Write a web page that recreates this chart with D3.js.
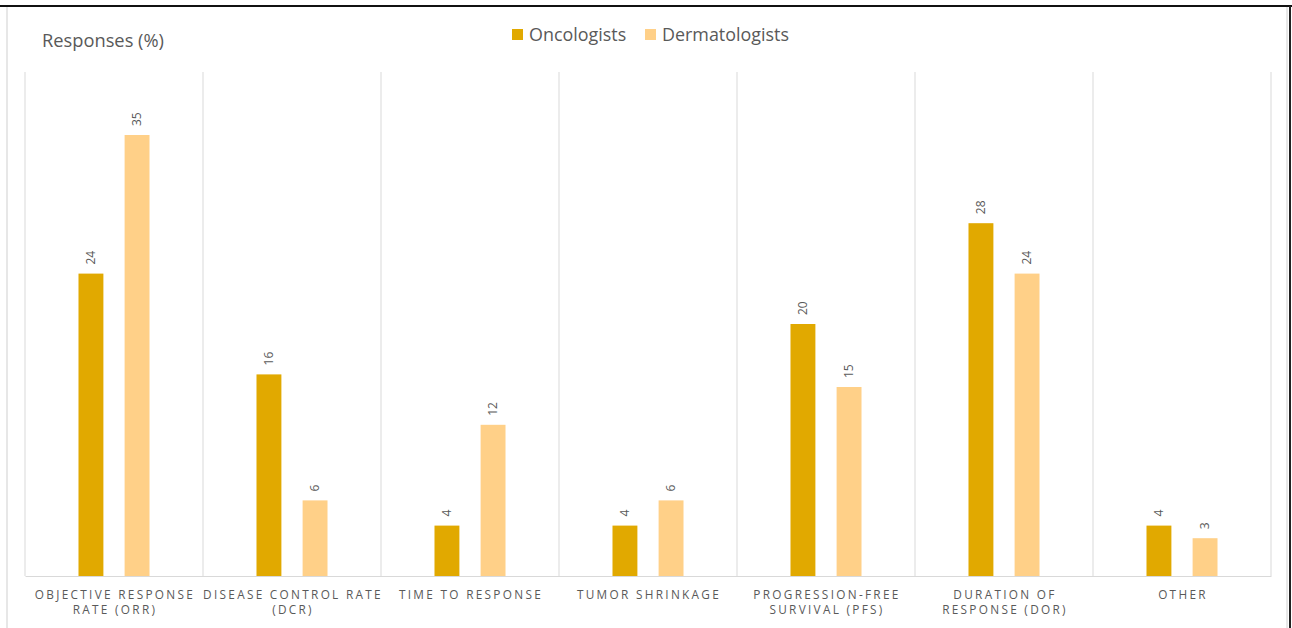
<!DOCTYPE html>
<html>
<head>
<meta charset="utf-8">
<script src="https://cdn.jsdelivr.net/npm/d3@7"></script>
<style>
  body { margin: 0; background: #fff; }
  svg { display: block; }
  text { font-family: "Open Sans", "Noto Sans", sans-serif; fill: #595959; }
</style>
</head>
<body>
<svg id="chart"></svg>
<script>
// data
const categories = ['ORR', 'DCR', 'TTR', 'TS', 'PFS', 'DOR', 'OTHER'];
const tickLabels = [
  ['OBJECTIVE RESPONSE', 'RATE (ORR)'],
  ['DISEASE CONTROL RATE', '(DCR)'],
  ['TIME TO RESPONSE'],
  ['TUMOR SHRINKAGE'],
  ['PROGRESSION-FREE', 'SURVIVAL (PFS)'],
  ['DURATION OF', 'RESPONSE (DOR)'],
  ['OTHER']
];
const seriesNames = ['Oncologists', 'Dermatologists'];
const oncologists = [24, 16, 4, 4, 20, 28, 4];
const dermatologists = [35, 6, 12, 6, 15, 24, 3];

const width = 1292, height = 628;
const margin = { top: 72, right: 21, bottom: 52, left: 25 };
const innerW = width - margin.left - margin.right;
const innerH = height - margin.top - margin.bottom;

const rows = categories.map((c, i) => ({
  cat: c,
  Oncologists: oncologists[i],
  Dermatologists: dermatologists[i]
}));

const svg = d3.select('#chart')
  .attr('width', width)
  .attr('height', height);

// outer frame
svg.append('rect')
  .attr('x', 7).attr('y', 6)
  .attr('width', 1280).attr('height', 630)
  .attr('fill', 'none')
  .attr('stroke', '#d0d0d0').attr('stroke-width', 1);
svg.append('line')
  .attr('x1', 0).attr('x2', width).attr('y1', 6).attr('y2', 6)
  .attr('stroke', '#111').attr('stroke-width', 2);
svg.append('line')
  .attr('x1', 1290).attr('x2', 1290).attr('y1', 6).attr('y2', height)
  .attr('stroke', '#222').attr('stroke-width', 2);

const chart = svg.append('g')
  .attr('transform', `translate(${margin.left},${margin.top})`);

const x0 = d3.scaleBand()
  .domain(categories)
  .range([0, innerW])
  .padding(0);

const x1 = d3.scaleBand()
  .domain(seriesNames)
  .range([0, x0.bandwidth()])
  .paddingInner(0.46)
  .paddingOuter(1.16);

const y = d3.scaleLinear()
  .domain([0, 40])
  .range([innerH, 0]);

const color = d3.scaleOrdinal()
  .domain(seriesNames)
  .range(['#E1A900', '#FFD088']);

// category separators
chart.selectAll('.sep')
  .data(categories.concat(['end']))
  .join('line')
    .attr('class', 'sep')
    .attr('x1', d => d === 'end' ? innerW : x0(d))
    .attr('x2', d => d === 'end' ? innerW : x0(d))
    .attr('y1', 0)
    .attr('y2', innerH)
    .attr('stroke', '#d9d9d9')
    .attr('stroke-width', 1);

// bars
const groups = chart.selectAll('.cat')
  .data(rows)
  .join('g')
    .attr('class', 'cat')
    .attr('transform', d => `translate(${x0(d.cat)},0)`);

groups.selectAll('rect')
  .data(d => seriesNames.map(k => ({ key: k, value: d[k] })))
  .join('rect')
    .attr('x', d => x1(d.key))
    .attr('y', d => y(d.value))
    .attr('width', x1.bandwidth())
    .attr('height', d => innerH - y(d.value))
    .attr('fill', d => color(d.key));

// rotated value labels
groups.selectAll('.val')
  .data(d => seriesNames.map(k => ({ key: k, value: d[k] })))
  .join('text')
    .attr('class', 'val')
    .attr('transform', d => `translate(${x1(d.key) + x1.bandwidth() / 2},${y(d.value) - 9}) rotate(-90)`)
    .attr('dy', '0.35em')
    .style('font-size', '12px')
    .style('text-anchor', 'start')
    .text(d => d.value);

// x axis
const xAxis = d3.axisBottom(x0).tickSize(0).tickFormat('');
const xAxisG = chart.append('g')
  .attr('transform', `translate(0,${innerH})`)
  .call(xAxis);
xAxisG.select('.domain').attr('stroke', '#d9d9d9');

// wrapped tick labels
const tickG = chart.append('g')
  .attr('transform', `translate(0,${innerH})`);
tickG.selectAll('text')
  .data(categories)
  .join('text')
    .attr('x', d => x0(d) + x0.bandwidth() / 2)
    .attr('y', 23)
    .style('font-size', '11.8px')
    .style('letter-spacing', '2.3px')
    .style('text-anchor', 'middle')
    .each(function(d, i) {
      const t = d3.select(this);
      tickLabels[i].forEach((line, j) => {
        t.append('tspan')
          .attr('x', x0(d) + x0.bandwidth() / 2 + 1)
          .attr('dy', j === 0 ? 0 : 15)
          .text(line);
      });
    });

// axis title
svg.append('text')
  .attr('x', 42)
  .attr('y', 47)
  .style('font-size', '18.3px')
  .text('Responses (%)');

// legend
const legendX = [512, 645];
const legend = svg.selectAll('.leg')
  .data(seriesNames)
  .join('g')
    .attr('class', 'leg')
    .attr('transform', (d, i) => `translate(${legendX[i]},29)`);
legend.append('rect')
  .attr('width', 11).attr('height', 11)
  .attr('fill', d => color(d));
legend.append('text')
  .attr('x', 17)
  .attr('y', 5.5)
  .attr('dy', '0.35em')
  .style('font-size', '17.9px')
  .text(d => d);
</script>
</body>
</html>
